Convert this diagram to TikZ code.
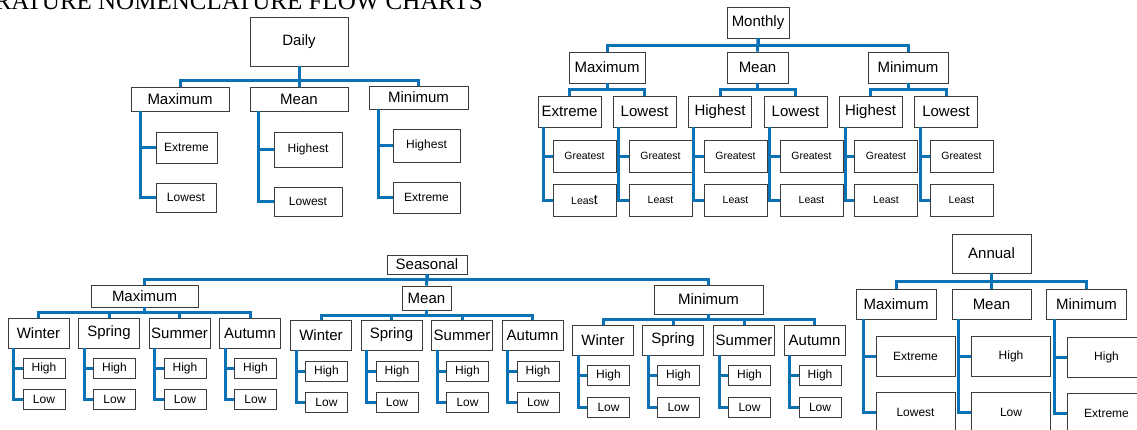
\documentclass[tikz,border=0pt]{standalone}
\usepackage{fontspec}
\setmainfont{Liberation Sans}
\newfontfamily\titlefont{Liberation Serif}
\usepackage{tikz}
\usepackage{xcolor}
\usetikzlibrary{positioning, calc}
\definecolor{LinkBlue}{HTML}{0B72B5}
\definecolor{BoxGray}{HTML}{3C3C3C}

\begin{document}
\begin{tikzpicture}[
    x=1pt, y=-1pt,
    box/.style={draw=BoxGray, line width=0.9pt, inner sep=0pt, anchor=center, text=black},
    sz/.style 2 args={minimum width=#1pt, minimum height=#2pt},
    bigtxt/.style={box, font=\fontsize{15}{15}\selectfont},
    smalltxt/.style={box, font=\fontsize{12}{12}\selectfont},
    tinytxt/.style={box, font=\fontsize{10.5}{10.5}\selectfont},
    link/.style={draw=LinkBlue, line width=3pt}
]
\clip (0,0) rectangle (1137,429);

% Title (cut at the top edge)
\node[anchor=base east, inner sep=0pt, font=\fontsize{25}{25}\selectfont\titlefont] (title) at (483,9) {TEMPERATURE NOMENCLATURE FLOW CHARTS};

% Daily
\node[bigtxt, sz={98}{49}] (daily) at (299,41.5) {Daily};
\node[bigtxt, sz={98}{24}] (dmax) at (180,99) {Maximum};
\node[bigtxt, sz={98}{24}] (dmean) at (299,99) {Mean};
\node[bigtxt, sz={99}{23}] (dmin) at (418.5,97.5) {Minimum};
\node[smalltxt, sz={61}{31}] (dmaxext) at (186.5,147.5) {Extreme};
\node[smalltxt, sz={60}{29}] (dmaxlow) at (186,197.5) {Lowest};
\node[smalltxt, sz={68}{35}] (dmeanhi) at (308,149.5) {Highest};
\node[smalltxt, sz={68}{29}] (dmeanlow) at (308,201.5) {Lowest};
\node[smalltxt, sz={67}{33}] (dminhi) at (426.5,145.5) {Highest};
\node[smalltxt, sz={67}{31}] (dminext) at (426.5,197.5) {Extreme};

\draw[link] (daily.south) -- ++(0,14) -| (dmax.north);
\draw[link] (daily.south) -- (dmean.north);
\draw[link] (daily.south) -- ++(0,14) -| (dmin.north);
\draw[link] ([xshift=10pt]dmax.south west) |- (dmaxext.west);
\draw[link] ([xshift=10pt]dmax.south west) |- (dmaxlow.west);
\draw[link] ([xshift=9pt]dmean.south west) |- (dmeanhi.west);
\draw[link] ([xshift=9pt]dmean.south west) |- (dmeanlow.west);
\draw[link] ([xshift=10pt]dmin.south west) |- (dminhi.west);
\draw[link] ([xshift=10pt]dmin.south west) |- (dminext.west);

% Monthly
\node[bigtxt, sz={62}{31}] (monthly) at (758,22.5) {Monthly};
\node[bigtxt, sz={76}{31}] (mmax) at (607,67.5) {Maximum};
\node[bigtxt, sz={61}{31}] (mmean) at (757.5,67.5) {Mean};
\node[bigtxt, sz={80}{31}] (mmin) at (908,67.5) {Minimum};
\node[bigtxt, sz={63}{31}] (mmaxext) at (569.5,111.5) {Extreme};
\node[bigtxt, sz={63}{31}] (mmaxlow) at (644.5,111.5) {Lowest};
\node[bigtxt, sz={63}{31}] (mmeanhi) at (720,111.5) {Highest};
\node[bigtxt, sz={63}{31}] (mmeanlow) at (795.5,111.5) {Lowest};
\node[bigtxt, sz={63}{31}] (mminhi) at (870.5,111.5) {Highest};
\node[bigtxt, sz={63}{31}] (mminlow) at (946,111.5) {Lowest};
\node[tinytxt, sz={63}{32}] (mmaxextg) at (584.5,156) {Greatest};
\node[tinytxt, sz={63}{32}] (mmaxextl) at (584.5,200) {Leas{\fontsize{14}{14}\selectfont t}};
\node[tinytxt, sz={63}{32}] (mmaxlowg) at (660.5,156) {Greatest};
\node[tinytxt, sz={63}{32}] (mmaxlowl) at (660.5,200) {Least};
\node[tinytxt, sz={63}{32}] (mmeanhig) at (735.5,156) {Greatest};
\node[tinytxt, sz={63}{32}] (mmeanhil) at (735.5,200) {Least};
\node[tinytxt, sz={63}{32}] (mmeanlowg) at (811.5,156) {Greatest};
\node[tinytxt, sz={63}{32}] (mmeanlowl) at (811.5,200) {Least};
\node[tinytxt, sz={63}{32}] (mminhig) at (886,156) {Greatest};
\node[tinytxt, sz={63}{32}] (mminhil) at (886,200) {Least};
\node[tinytxt, sz={63}{32}] (mminlowg) at (961.5,156) {Greatest};
\node[tinytxt, sz={63}{32}] (mminlowl) at (961.5,200) {Least};

\draw[link] (monthly.south) -- ++(0,7) -| (mmax.north);
\draw[link] (monthly.south) -- (mmean.north);
\draw[link] (monthly.south) -- ++(0,7) -| (mmin.north);
\draw[link] (mmax.south) -- ++(0,6) -| (mmaxext.north);
\draw[link] (mmax.south) -- ++(0,6) -| (mmaxlow.north);
\draw[link] (mmean.south) -- ++(0,6) -| (mmeanhi.north);
\draw[link] (mmean.south) -- ++(0,6) -| (mmeanlow.north);
\draw[link] (mmin.south) -- ++(0,6) -| (mminhi.north);
\draw[link] (mmin.south) -- ++(0,6) -| (mminlow.north);
\draw[link] ([xshift=6pt]mmaxext.south west) |- (mmaxextg.west);
\draw[link] ([xshift=6pt]mmaxext.south west) |- (mmaxextl.west);
\draw[link] ([xshift=6pt]mmaxlow.south west) |- (mmaxlowg.west);
\draw[link] ([xshift=6pt]mmaxlow.south west) |- (mmaxlowl.west);
\draw[link] ([xshift=5pt]mmeanhi.south west) |- (mmeanhig.west);
\draw[link] ([xshift=5pt]mmeanhi.south west) |- (mmeanhil.west);
\draw[link] ([xshift=6pt]mmeanlow.south west) |- (mmeanlowg.west);
\draw[link] ([xshift=6pt]mmeanlow.south west) |- (mmeanlowl.west);
\draw[link] ([xshift=7pt]mminhi.south west) |- (mminhig.west);
\draw[link] ([xshift=7pt]mminhi.south west) |- (mminhil.west);
\draw[link] ([xshift=6pt]mminlow.south west) |- (mminlowg.west);
\draw[link] ([xshift=6pt]mminlow.south west) |- (mminlowl.west);

% Seasonal
\node[bigtxt, sz={80}{19}] (seasonal) at (427,264.5) {Seasonal};
\node[bigtxt, sz={107}{22}] (smax) at (144.5,296) {Maximum};
\node[bigtxt, sz={49}{24}] (smean) at (426.5,298) {Mean};
\node[bigtxt, sz={109}{29}] (smin) at (708.5,299.5) {Minimum};
\node[bigtxt, sz={61}{30}] (smaxwin) at (38.5,333) {Winter};
\node[bigtxt, sz={61}{30}] (smaxspr) at (109,333) {Spring};
\node[bigtxt, sz={61}{30}] (smaxsum) at (179.5,333) {Summer};
\node[bigtxt, sz={61}{30}] (smaxaut) at (250,333) {Autumn};
\node[bigtxt, sz={61}{30}] (smeanwin) at (321,335) {Winter};
\node[bigtxt, sz={61}{30}] (smeanspr) at (391.5,335) {Spring};
\node[bigtxt, sz={61}{30}] (smeansum) at (462,335) {Summer};
\node[bigtxt, sz={61}{30}] (smeanaut) at (532.5,335) {Autumn};
\node[bigtxt, sz={61}{30}] (sminwin) at (603,340) {Winter};
\node[bigtxt, sz={61}{30}] (sminspr) at (673,340) {Spring};
\node[bigtxt, sz={61}{30}] (sminsum) at (744,340) {Summer};
\node[bigtxt, sz={61}{30}] (sminaut) at (814.5,340) {Autumn};
\node[smalltxt, sz={42}{20}] (smaxwinh) at (44,368) {High};
\node[smalltxt, sz={42}{20}] (smaxwinl) at (44,399) {Low};
\node[smalltxt, sz={42}{20}] (smaxsprh) at (114.5,368) {High};
\node[smalltxt, sz={42}{20}] (smaxsprl) at (114.5,399) {Low};
\node[smalltxt, sz={42}{20}] (smaxsumh) at (185,368) {High};
\node[smalltxt, sz={42}{20}] (smaxsuml) at (185,399) {Low};
\node[smalltxt, sz={42}{20}] (smaxauth) at (255.5,368) {High};
\node[smalltxt, sz={42}{20}] (smaxautl) at (255.5,399) {Low};
\node[smalltxt, sz={42}{20}] (smeanwinh) at (326.5,371.5) {High};
\node[smalltxt, sz={42}{20}] (smeanwinl) at (326.5,402) {Low};
\node[smalltxt, sz={42}{20}] (smeansprh) at (397,371.5) {High};
\node[smalltxt, sz={42}{20}] (smeansprl) at (397,402) {Low};
\node[smalltxt, sz={42}{20}] (smeansumh) at (467.5,371.5) {High};
\node[smalltxt, sz={42}{20}] (smeansuml) at (467.5,402) {Low};
\node[smalltxt, sz={42}{20}] (smeanauth) at (538,371.5) {High};
\node[smalltxt, sz={42}{20}] (smeanautl) at (538,402) {Low};
\node[smalltxt, sz={42}{20}] (sminwinh) at (608.5,375.5) {High};
\node[smalltxt, sz={42}{20}] (sminwinl) at (608.5,407) {Low};
\node[smalltxt, sz={42}{20}] (sminsprh) at (678.5,375.5) {High};
\node[smalltxt, sz={42}{20}] (sminsprl) at (678.5,407) {Low};
\node[smalltxt, sz={42}{20}] (sminsumh) at (749.5,375.5) {High};
\node[smalltxt, sz={42}{20}] (sminsuml) at (749.5,407) {Low};
\node[smalltxt, sz={42}{20}] (sminauth) at (820,375.5) {High};
\node[smalltxt, sz={42}{20}] (sminautl) at (820,407) {Low};

\draw[link] (seasonal.south) -- ++(0,5.5) -| (smax.north);
\draw[link] (seasonal.south) -- (smean.north);
\draw[link] (seasonal.south) -- ++(0,5.5) -| (smin.north);
\draw[link] (smax.south) -- ++(0,5) -| (smaxwin.north);
\draw[link] (smax.south) -- ++(0,5) -| (smaxspr.north);
\draw[link] (smax.south) -- ++(0,5) -| (smaxsum.north);
\draw[link] (smax.south) -- ++(0,5) -| (smaxaut.north);
\draw[link] (smean.south) -- ++(0,5) -| (smeanwin.north);
\draw[link] (smean.south) -- ++(0,5) -| (smeanspr.north);
\draw[link] (smean.south) -- ++(0,5) -| (smeansum.north);
\draw[link] (smean.south) -- ++(0,5) -| (smeanaut.north);
\draw[link] (smin.south) -- ++(0,5) -| (sminwin.north);
\draw[link] (smin.south) -- ++(0,5) -| (sminspr.north);
\draw[link] (smin.south) -- ++(0,5) -| (sminsum.north);
\draw[link] (smin.south) -- ++(0,5) -| (sminaut.north);
% Seasonal leaves
\draw[link] ([xshift=6pt]smaxwin.south west) |- (smaxwinh.west);
\draw[link] ([xshift=6pt]smaxwin.south west) |- (smaxwinl.west);
\draw[link] ([xshift=6pt]smaxspr.south west) |- (smaxsprh.west);
\draw[link] ([xshift=6pt]smaxspr.south west) |- (smaxsprl.west);
\draw[link] ([xshift=6pt]smaxsum.south west) |- (smaxsumh.west);
\draw[link] ([xshift=6pt]smaxsum.south west) |- (smaxsuml.west);
\draw[link] ([xshift=6pt]smaxaut.south west) |- (smaxauth.west);
\draw[link] ([xshift=6pt]smaxaut.south west) |- (smaxautl.west);
\draw[link] ([xshift=6pt]smeanwin.south west) |- (smeanwinh.west);
\draw[link] ([xshift=6pt]smeanwin.south west) |- (smeanwinl.west);
\draw[link] ([xshift=6pt]smeanspr.south west) |- (smeansprh.west);
\draw[link] ([xshift=6pt]smeanspr.south west) |- (smeansprl.west);
\draw[link] ([xshift=6pt]smeansum.south west) |- (smeansumh.west);
\draw[link] ([xshift=6pt]smeansum.south west) |- (smeansuml.west);
\draw[link] ([xshift=6pt]smeanaut.south west) |- (smeanauth.west);
\draw[link] ([xshift=6pt]smeanaut.south west) |- (smeanautl.west);
\draw[link] ([xshift=6pt]sminwin.south west) |- (sminwinh.west);
\draw[link] ([xshift=6pt]sminwin.south west) |- (sminwinl.west);
\draw[link] ([xshift=6pt]sminspr.south west) |- (sminsprh.west);
\draw[link] ([xshift=6pt]sminspr.south west) |- (sminsprl.west);
\draw[link] ([xshift=6pt]sminsum.south west) |- (sminsumh.west);
\draw[link] ([xshift=6pt]sminsum.south west) |- (sminsuml.west);
\draw[link] ([xshift=6pt]sminaut.south west) |- (sminauth.west);
\draw[link] ([xshift=6pt]sminaut.south west) |- (sminautl.west);

% Annual
\node[bigtxt, sz={79}{39}] (annual) at (991.5,253.5) {Annual};
\node[bigtxt, sz={80}{30}] (amax) at (896,304) {Maximum};
\node[bigtxt, sz={79}{30}] (amean) at (991.5,304) {Mean};
\node[bigtxt, sz={80}{30}] (amin) at (1086.5,304) {Minimum};
\node[smalltxt, sz={79}{40}] (amaxext) at (915.5,356) {Extreme};
\node[smalltxt, sz={79}{40}] (amaxlow) at (915.5,412) {Lowest};
\node[smalltxt, sz={79}{40}] (ameanhi) at (1011,356) {High};
\node[smalltxt, sz={79}{40}] (ameanlow) at (1011,412) {Low};
\node[smalltxt, sz={79}{40}] (aminhi) at (1106.5,357) {High};
\node[smalltxt, sz={79}{40}] (aminext) at (1106.5,413) {Extreme};

\draw[link] (annual.south) -- ++(0,8) -| (amax.north);
\draw[link] (annual.south) -- (amean.north);
\draw[link] (annual.south) -- ++(0,8) -| (amin.north);
\draw[link] ([xshift=8pt]amax.south west) |- (amaxext.west);
\draw[link] ([xshift=8pt]amax.south west) |- (amaxlow.west);
\draw[link] ([xshift=7pt]amean.south west) |- (ameanhi.west);
\draw[link] ([xshift=7pt]amean.south west) |- (ameanlow.west);
\draw[link] ([xshift=8pt]amin.south west) |- (aminhi.west);
\draw[link] ([xshift=8pt]amin.south west) |- (aminext.west);
\end{tikzpicture}
\end{document}
